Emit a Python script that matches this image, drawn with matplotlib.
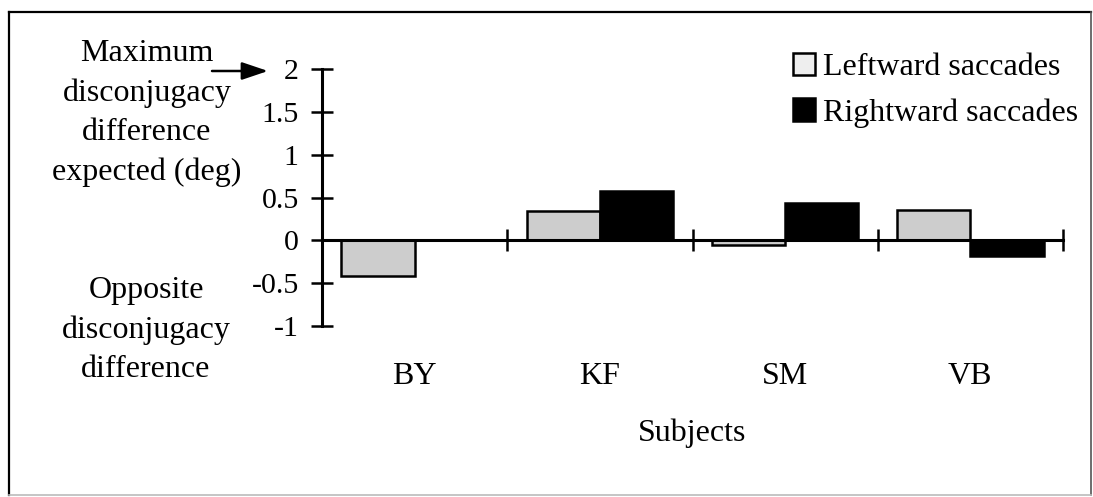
"""
Disconjugacy difference per subject, leftward vs rightward saccades
"""

import matplotlib
matplotlib.use('Agg')
import matplotlib.pyplot as plt
import matplotlib.transforms as mtransforms
from matplotlib.patches import Patch
from matplotlib.lines import Line2D
import numpy as np

plt.rcParams['font.family'] = ['Liberation Serif', 'DejaVu Serif']

# Data
subjects = ['BY', 'KF', 'SM', 'VB']
leftward = [-0.42, 0.34, -0.05, 0.35]
rightward = [0.0, 0.58, 0.44, -0.18]
series_names = ['Leftward saccades', 'Rightward saccades']
y_ticks = [-1, -0.5, 0, 0.5, 1, 1.5, 2]
y_tick_labels = ['-1', '-0.5', '0', '0.5', '1', '1.5', '2']

W, H = 1093, 497
FS = 23       # labels, legend
FS_TICK = 21.5

fig = plt.figure(figsize=(W / 100, H / 100), dpi=100)

# axes placed in pixel terms: y axis at x=322, ends at 1063; y=2 at 69, y=-1 at 326
ax = fig.add_axes([322 / W, 1 - 326 / H, (1063 - 322) / W, (326 - 69) / H])
ax.set_facecolor('none')

x = np.arange(len(subjects))
bar_w = 0.395
ax.bar(x - bar_w / 2, leftward, bar_w, color='#cdcdcd', edgecolor='black', linewidth=1.8)
ax.bar(x + bar_w / 2, rightward, bar_w, color='black', edgecolor='black', linewidth=1.8)

ax.set_xlim(-0.5, len(subjects) - 0.5)
ax.set_ylim(-1, 2)

# spines
for s in ['top', 'right']:
    ax.spines[s].set_visible(False)
ax.spines['left'].set_linewidth(2.2)
ax.spines['bottom'].set_position(('data', 0))
ax.spines['bottom'].set_linewidth(2.2)

ax.set_yticks(y_ticks)
ax.set_yticklabels(y_tick_labels, fontsize=FS_TICK)
ax.tick_params(axis='y', direction='inout', length=16.5, width=1.8, pad=8.5)

ax.set_xticks(np.arange(len(subjects) + 1) - 0.5)
ax.set_xticklabels([])
ax.tick_params(axis='x', direction='inout', length=16, width=1.8)
ax.spines['left'].set_zorder(5)

# category labels, below the plot
trans = mtransforms.blended_transform_factory(ax.transData, fig.transFigure)
for xi, name in zip(x, subjects):
    ax.text(xi, 1 - 376 / H, name, transform=trans, fontsize=FS,
            ha='center', va='center')

fig.text(692 / W, 1 - 433 / H, 'Subjects', fontsize=FS, ha='center', va='center')

# y axis annotations
fig.text(147 / W, 1 - 113 / H, 'Maximum\ndisconjugacy\ndifference\nexpected (deg)',
         fontsize=FS, ha='center', va='center', linespacing=1.46)
fig.text(146 / W, 1 - 330 / H, 'Opposite\ndisconjugacy\ndifference',
         fontsize=FS, ha='center', va='center', linespacing=1.48)

ax.annotate('', xy=(268 / W, 1 - 71 / H), xytext=(212 / W, 1 - 71 / H),
            xycoords='figure fraction', textcoords='figure fraction',
            arrowprops=dict(arrowstyle='-|>,head_length=0.8,head_width=0.27',
                            mutation_scale=20, lw=1.8, color='black',
                            shrinkA=0, shrinkB=0))

# legend
handles = [Patch(facecolor='#eeeeee', edgecolor='black', linewidth=1.8),
           Patch(facecolor='black', edgecolor='black', linewidth=1.8)]
fig.legend(handles, series_names, loc='upper left',
           bbox_to_anchor=(793 / W, 1 - 53 / H), frameon=False, fontsize=FS,
           handlelength=0.7, handleheight=0.7, handletextpad=0.25,
           labelspacing=0.49, borderpad=0, borderaxespad=0)

# outer frame
fig.add_artist(Line2D([9 / W, 1091 / W], [1 - 12 / H, 1 - 12 / H], color='black', lw=1.6))
fig.add_artist(Line2D([9 / W, 9 / W], [1 - 12 / H, 1 - 495 / H], color='black', lw=1.6))
fig.add_artist(Line2D([1091 / W, 1091 / W], [1 - 12 / H, 1 - 495 / H], color='#555555', lw=1.2))
fig.add_artist(Line2D([9 / W, 1091 / W], [1 - 495 / H, 1 - 495 / H], color='#bbbbbb', lw=1.2))

fig.savefig('out.png', dpi=100)
